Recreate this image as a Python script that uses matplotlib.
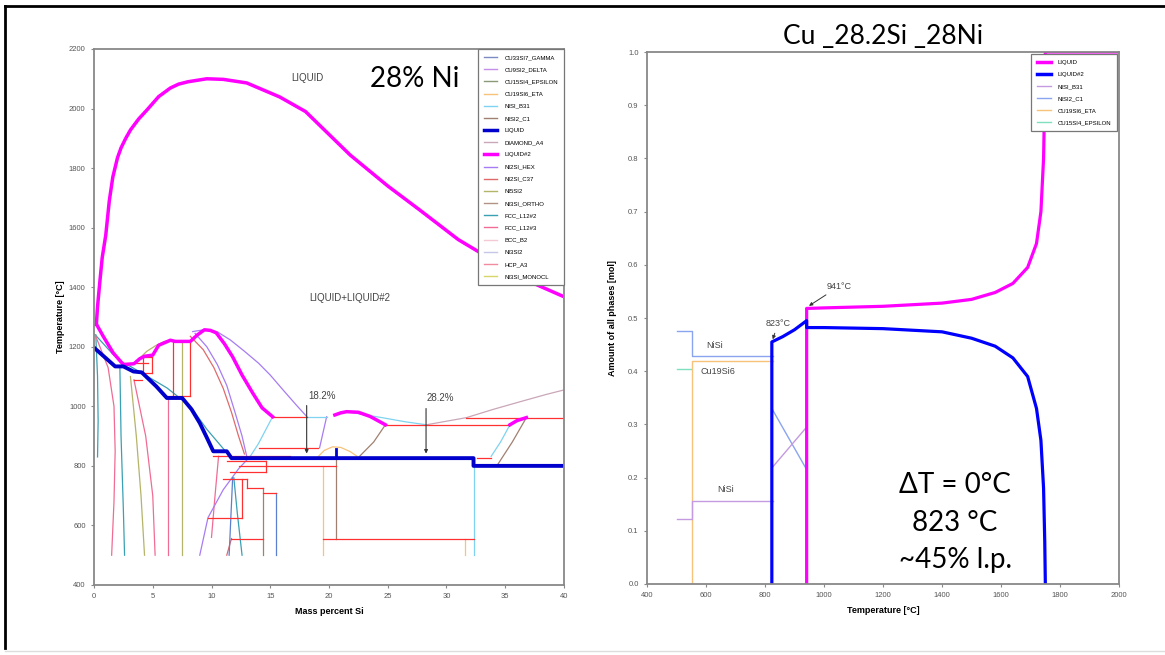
import matplotlib
matplotlib.use("Agg")
import matplotlib.pyplot as plt
from matplotlib.lines import Line2D

plt.rcParams['font.family'] = ['Liberation Sans', 'DejaVu Sans']

# ---------------- left chart: phase diagram, 28% Ni ----------------
# thick LIQUID (blue) and LIQUID#2 (magenta) boundaries
liquid_x = [0, 1.8, 2.5, 3.35, 4.06, 5.3, 6.2, 7.5, 8.3, 9.0, 9.6, 10.15, 11.3, 11.7, 32.3, 32.3, 40]
liquid_t = [1197, 1134, 1134, 1117, 1114, 1067, 1028, 1028, 990, 944, 895, 849, 849, 826, 826, 800, 800]
liquid_tick_x = [20.6, 20.6]
liquid_tick_t = [826, 858]

liq2_dome_x = [0.2, 0.3, 0.5, 0.7, 1.0, 1.3, 1.6, 2.0, 2.3, 2.7, 3.1, 3.8, 4.5, 5.5, 6.5, 7.2, 8.0, 9.6, 11.0,
               13.0, 15.8, 18.0, 21.8, 25.0, 27.7, 31.0, 34.6, 37.0, 40.0]
liq2_dome_t = [1275, 1335, 1420, 1500, 1575, 1690, 1770, 1835, 1868, 1900, 1928, 1965, 1995, 2040, 2069, 2082,
               2090, 2100, 2098, 2086, 2039, 1990, 1844, 1740, 1660, 1560, 1475, 1420, 1368]
liq2_low1_x = [0.23, 0.8, 1.64, 2.5, 3.4, 3.9, 4.3, 5.0, 5.5, 6.5, 6.9, 8.2, 8.8, 9.4, 9.9, 10.4, 11.1, 11.8, 12.6, 13.5, 14.3, 15.2]
liq2_low1_t = [1274, 1234, 1179, 1140, 1143, 1160, 1168, 1172, 1205, 1222, 1218, 1218, 1240, 1257, 1255, 1247, 1210, 1166, 1105, 1045, 995, 965]
liq2_low2_x = [20.5, 21.0, 21.5, 22.5, 23.5, 24.8]
liq2_low2_t = [971, 978, 982, 980, 966, 938]
liq2_low3_x = [35.4, 36.0, 36.8]
liq2_low3_t = [938, 952, 962]

# thin phase boundaries, per phase: list of (x, T) polylines
fcc2_lines = [([0.1, 0.8, 1.6, 2.5, 3.1, 6.2, 8.2, 9.6, 11.3], [1240, 1210, 1175, 1146, 1134, 1062, 1000, 923, 844]),
              ([2.2, 2.3, 2.5, 2.6], [1134, 900, 650, 500]),
              ([0.15, 0.3, 0.35, 0.3], [1240, 1100, 950, 830]),
              ([11.9, 12.2, 12.6], [760, 640, 500])]
fcc3_lines = [([0.1, 0.6, 1.2, 1.7, 1.8, 1.7, 1.5], [1240, 1190, 1130, 1000, 850, 680, 500]),
              ([3.4, 4.4, 5.0, 5.2], [1089, 900, 700, 500]),
              ([6.3, 6.3], [1028, 500]),
              ([10.6, 10.3, 10.0], [832, 700, 560])]
ni2si_hex_lines = [([8.4, 9.5, 10.5, 11.6, 12.8, 14.0, 15.0, 16.2, 17.2, 18.1], [1251, 1258, 1250, 1223, 1185, 1145, 1105, 1050, 1005, 966]),
                   ([8.6, 9.6, 10.5, 11.3, 12.0, 12.6, 13.0], [1245, 1200, 1140, 1070, 980, 900, 832]),
                   ([9.0, 9.7, 11.0, 12.3, 13.3], [500, 626, 720, 790, 832]),
                   ([19.8, 19.2], [965, 861])]
ni2si_c37_lines = [([8.2, 9.3, 10.2, 11.0, 11.7, 12.3, 12.8], [1235, 1190, 1130, 1060, 980, 900, 840]),
                   ([11.3, 11.7], [500, 556])]
nisi_b31_lines = [([15.2, 14.6, 14.0, 13.3], [965, 920, 875, 832]),
                  ([18.1, 19.8], [965, 965]),
                  ([21.5, 23.0, 24.8, 26.5, 28.3], [982, 972, 960, 948, 938]),
                  ([35.4, 34.6, 33.8], [938, 880, 832]),
                  ([32.3, 32.3], [826, 500])]
nisi2_c1_lines = [([24.8, 23.8, 22.6], [938, 880, 832]),
                  ([36.8, 35.6, 34.4], [962, 880, 807]),
                  ([20.6, 20.6], [850, 553]),
                  ([14.4, 14.4], [727, 500])]
gamma_lines = [([15.5, 15.5], [710, 500]),
               ([11.5, 11.8], [500, 760])]
diamond_lines = [([28.3, 31.7, 34.0, 36.5, 38.5, 40.0], [938, 962, 990, 1018, 1040, 1055])]
eta_lines = [([19.1, 19.6, 20.3, 21.0, 21.8, 22.4], [832, 852, 864, 862, 848, 832]),
             ([19.5, 19.5], [800, 500]),
             ([31.6, 31.6], [553, 500])]
ni5si2_lines = [([3.9, 4.5, 5.3, 6.0, 6.5], [1162, 1185, 1205, 1218, 1221]),
                ([3.1, 3.6, 4.0, 4.3], [1100, 900, 700, 500]),
                ([7.5, 7.5], [1218, 500])]

# red tie lines: (x_start, x_end, T)
tie_lines = [(2.3, 4.6, 1146), (3.4, 4.1, 1089), (4.2, 4.9, 1166), (4.2, 4.9, 1113),
             (6.75, 8.17, 1218), (6.2, 8.17, 1035), (15.2, 18.1, 965), (14.0, 19.1, 861),
             (10.1, 16.7, 832), (11.3, 14.6, 815), (12.3, 20.6, 800), (11.6, 14.6, 781),
             (11.0, 13.0, 757), (13.0, 14.4, 727), (14.4, 15.5, 710), (9.7, 12.6, 626),
             (11.7, 14.4, 556), (19.5, 32.3, 553), (24.8, 35.4, 938), (31.7, 40.0, 962),
             (32.6, 33.8, 827)]
tie_verticals = [(4.2, 1113, 1166), (4.9, 1113, 1166), (6.75, 1035, 1218), (8.17, 1035, 1218),
                 (13.0, 727, 757), (14.6, 781, 815), (12.6, 626, 757)]

legend_left = ['CU33SI7_GAMMA', 'CU9SI2_DELTA', 'CU15SI4_EPSILON', 'CU19SI6_ETA', 'NISI_B31',
               'NISI2_C1', 'LIQUID', 'DIAMOND_A4', 'LIQUID#2', 'NI2SI_HEX', 'NI2SI_C37', 'NI5SI2',
               'NI3SI_ORTHO', 'FCC_L12#2', 'FCC_L12#3', 'BCC_B2', 'NI3SI2', 'HCP_A3', 'NI3SI_MONOCL']
legend_left_colors = ['#7b8cc4', '#c58ee8', '#8a9a78', '#f7c27a', '#7fd3f0',
                      '#a08070', '#0000cc', '#c9a6b8', '#ff00ff', '#a77cf2', '#e06a6a', '#b4b46a',
                      '#b39484', '#3aa0b4', '#f06c94', '#f5c8d6', '#c6c6e8', '#f08ca0', '#d6d66a']

# ---------------- right chart: amount of phases vs temperature ----------------
r_nisi_c1_x = [503, 551, 551, 826]
r_nisi_c1_y = [0.476, 0.476, 0.429, 0.429]
r_nisi_c1_cross_x = [826, 941]
r_nisi_c1_cross_y = [0.327, 0.215]
r_nisi_b31_x = [503, 551, 551, 826]
r_nisi_b31_y = [0.123, 0.123, 0.156, 0.156]
r_nisi_b31_cross_x = [826, 941]
r_nisi_b31_cross_y = [0.22, 0.295]
r_eta_x = [551, 551, 826]
r_eta_y = [0.0, 0.42, 0.42]
r_eps_x = [503, 548]
r_eps_y = [0.404, 0.404]
r_liq2_x = [823, 823, 860, 900, 941, 941, 1000, 1200, 1400, 1500, 1580, 1640, 1690, 1720, 1735, 1744, 1748, 1750]
r_liq2_y = [0.0, 0.455, 0.465, 0.478, 0.495, 0.482, 0.482, 0.480, 0.474, 0.462, 0.447, 0.425, 0.39, 0.33, 0.27, 0.18, 0.08, 0.0]
r_liq_x = [941, 941, 1000, 1200, 1400, 1500, 1580, 1640, 1690, 1720, 1735, 1744, 1748, 1750, 2000]
r_liq_y = [0.0, 0.518, 0.519, 0.522, 0.528, 0.535, 0.548, 0.565, 0.595, 0.64, 0.70, 0.80, 0.92, 1.0, 1.0]

legend_right = ['LIQUID', 'LIQUID#2', 'NISI_B31', 'NISI2_C1', 'CU19SI6_ETA', 'CU15SI4_EPSILON']
legend_right_colors = ['#ff00ff', '#0000ff', '#c49ae0', '#8aa4f0', '#f7c27a', '#7fe0c0']

# ---------------- drawing ----------------
fig = plt.figure(figsize=(11.65, 6.55), dpi=100)
ax1 = fig.add_axes([0.0807, 0.1069, 0.4034, 0.8183])
ax2 = fig.add_axes([0.5554, 0.1084, 0.4052, 0.8122])

tie_color = '#ff3030'
thin = 0.9


def draw_lines(ax, lines, color):
    for xs, ts in lines:
        ax.plot(xs, ts, color=color, lw=thin)


draw_lines(ax1, fcc2_lines, '#3aa0b4')
draw_lines(ax1, fcc3_lines, '#f06c94')
draw_lines(ax1, ni2si_hex_lines, '#a77cf2')
draw_lines(ax1, ni2si_c37_lines, '#e06a6a')
draw_lines(ax1, nisi_b31_lines, '#7fd3f0')
draw_lines(ax1, nisi2_c1_lines, '#a08070')
draw_lines(ax1, gamma_lines, '#5d7fd0')
draw_lines(ax1, diamond_lines, '#c9a6b8')
draw_lines(ax1, eta_lines, '#f7c27a')
draw_lines(ax1, ni5si2_lines, '#b4b46a')
for x0, x1, t in tie_lines:
    ax1.plot([x0, x1], [t, t], color=tie_color, lw=thin)
for x, t0, t1 in tie_verticals:
    ax1.plot([x, x], [t0, t1], color=tie_color, lw=thin)

ax1.plot(liq2_dome_x, liq2_dome_t, color='#ff00ff', lw=2.5)
ax1.plot(liq2_low1_x, liq2_low1_t, color='#ff00ff', lw=2.5)
ax1.plot(liq2_low2_x, liq2_low2_t, color='#ff00ff', lw=2.5)
ax1.plot(liq2_low3_x, liq2_low3_t, color='#ff00ff', lw=2.5)
ax1.plot(liquid_x, liquid_t, color='#0000cc', lw=2.8)
ax1.plot(liquid_tick_x, liquid_tick_t, color='#0000cc', lw=2.0)

arrow = dict(arrowstyle='-|>', color='#333333', lw=0.8, mutation_scale=5)
ax1.annotate('', xy=(18.1, 832), xytext=(18.1, 1012), arrowprops=arrow)
ax1.text(18.2, 1018, '18.2%', fontsize=7, color='#444444', va='bottom')
ax1.annotate('', xy=(28.26, 832), xytext=(28.26, 1002), arrowprops=arrow)
ax1.text(28.3, 1010, '28.2%', fontsize=7, color='#444444', va='bottom')
ax1.text(18.2, 2102, 'LIQUID', fontsize=7, color='#444444', ha='center', va='center')
ax1.text(21.8, 1365, 'LIQUID+LIQUID#2', fontsize=7, color='#444444', ha='center', va='center')
ax1.text(27.3, 2100, '28% Ni', fontsize=20, family='Lato', ha='center', va='center')

ax1.set_xlim(0, 40)
ax1.set_ylim(400, 2200)
ax1.set_xticks(range(0, 41, 5))
ax1.set_yticks(range(400, 2201, 200))
ax1.set_xlabel('Mass percent Si', fontsize=6.5, fontweight='bold', labelpad=5)
ax1.set_ylabel('Temperature [°C]', fontsize=6.5, fontweight='bold', labelpad=3)

handles = []
for name, c in zip(legend_left, legend_left_colors):
    lw = 2.5 if name in ('LIQUID', 'LIQUID#2') else 1.0
    handles.append(Line2D([0], [0], color=c, lw=lw, label=name))
leg = ax1.legend(handles=handles, loc='upper right', borderaxespad=0, fontsize=4.3,
                 labelspacing=1.17, handlelength=2.2, handletextpad=1.2, fancybox=False,
                 borderpad=1.0, framealpha=1)
leg.get_frame().set_edgecolor('#777777')
leg.get_frame().set_linewidth(0.9)

# right chart
ax2.plot(r_eps_x, r_eps_y, color='#7fe0c0', lw=1.0)
ax2.plot(r_eta_x, r_eta_y, color='#f7c27a', lw=1.0)
ax2.plot(r_nisi_c1_x, r_nisi_c1_y, color='#8aa4f0', lw=1.0)
ax2.plot(r_nisi_c1_cross_x, r_nisi_c1_cross_y, color='#8aa4f0', lw=1.0)
ax2.plot(r_nisi_b31_x, r_nisi_b31_y, color='#c49ae0', lw=1.0)
ax2.plot(r_nisi_b31_cross_x, r_nisi_b31_cross_y, color='#c49ae0', lw=1.0)
ax2.plot(r_liq_x, r_liq_y, color='#ff00ff', lw=2.3)
ax2.plot(r_liq2_x, r_liq2_y, color='#0000ff', lw=2.3)

ax2.text(630, 0.449, 'NiSi', fontsize=6.5, color='#444444', ha='center', va='center')
ax2.text(580, 0.399, 'Cu19Si6', fontsize=6.5, color='#444444', ha='left', va='center')
ax2.text(665, 0.177, 'NiSi', fontsize=6.5, color='#444444', ha='center', va='center')
ax2.annotate('823°C', xy=(823, 0.455), xytext=(802, 0.49), fontsize=6.5, color='#444444',
             va='center', arrowprops=dict(arrowstyle='-|>', color='#333333', lw=0.7, mutation_scale=5))
ax2.annotate('941°C', xy=(941, 0.52), xytext=(1010, 0.56), fontsize=6.5, color='#444444',
             va='center', arrowprops=dict(arrowstyle='-|>', color='#333333', lw=0.7, mutation_scale=5))
ax2.text(1444, 0.186, 'ΔT = 0°C', fontsize=20, family='Lato', ha='center', va='center')
ax2.text(1444, 0.115, '823 °C', fontsize=20, family='Lato', ha='center', va='center')
ax2.text(1444, 0.045, '~45% l.p.', fontsize=20, family='Lato', ha='center', va='center')

ax2.set_xlim(400, 2000)
ax2.set_ylim(0, 1.0)
ax2.set_xticks(range(400, 2001, 200))
ax2.set_yticks([i / 10 for i in range(11)])
ax2.set_yticklabels(['%.1f' % (i / 10) for i in range(11)])
ax2.set_xlabel('Temperature [°C]', fontsize=6.5, fontweight='bold', labelpad=5)
ax2.set_ylabel('Amount of all phases [mol]', fontsize=6.5, fontweight='bold', labelpad=8)
ax2.set_title('Cu _28.2Si _28Ni', fontsize=19, family='Lato', pad=6)

handles2 = []
for name, c in zip(legend_right, legend_right_colors):
    lw = 2.5 if name in ('LIQUID', 'LIQUID#2') else 1.0
    handles2.append(Line2D([0], [0], color=c, lw=lw, label=name))
leg2 = ax2.legend(handles=handles2, loc='upper right', borderaxespad=0.3, fontsize=4.3,
                  labelspacing=1.15, handlelength=2.2, handletextpad=1.2, fancybox=False,
                  borderpad=1.0, framealpha=1)
leg2.get_frame().set_edgecolor('#777777')
leg2.get_frame().set_linewidth(0.9)

for ax in (ax1, ax2):
    for s in ax.spines.values():
        s.set_color('#888888')
        s.set_linewidth(1.3)
    ax.tick_params(labelsize=5.5, labelcolor='#555555', color='#888888', length=2.5, width=0.8)

# outer frame of the slide
fig.add_artist(Line2D([0.0043, 0.0043], [0.011, 0.9908], transform=fig.transFigure, color='black', lw=2))
fig.add_artist(Line2D([0.0043, 1.0], [0.9908, 0.9908], transform=fig.transFigure, color='black', lw=2))
fig.add_artist(Line2D([0.0043, 1.0], [0.006, 0.006], transform=fig.transFigure, color='#dddddd', lw=1))

fig.savefig('out.png', dpi=100)
